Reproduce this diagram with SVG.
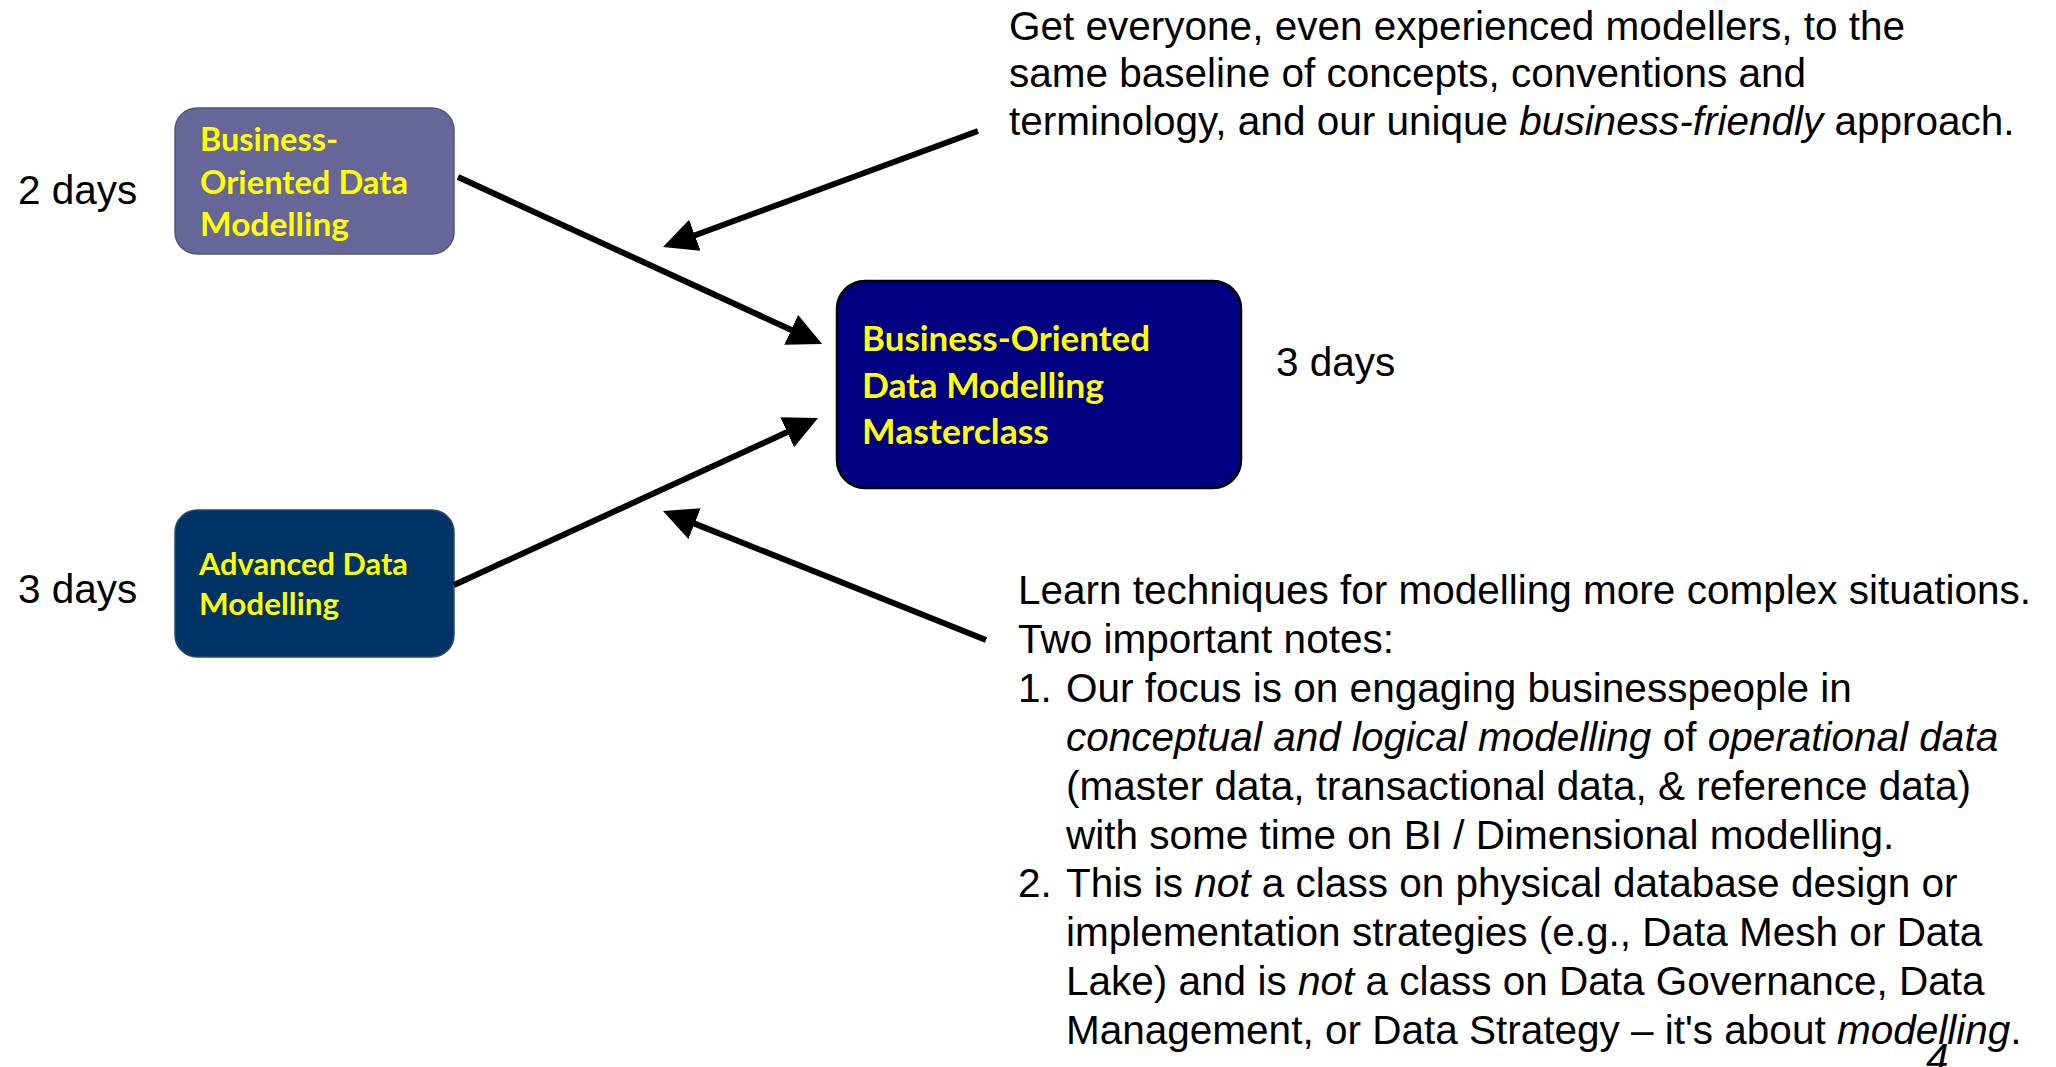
<svg xmlns="http://www.w3.org/2000/svg" width="2056" height="1067" viewBox="0 0 2056 1067">
<style>
.body{font-family:"Liberation Sans",Arial,sans-serif;font-size:40.5px;fill:#000}
.it{font-style:italic}
.bx{font-family:Lato,"Open Sans",sans-serif;font-weight:bold;fill:#FFFF00}
.conn line{stroke:#000;stroke-width:6;fill:none}
</style>
<defs>
<marker id="ah" markerUnits="userSpaceOnUse" markerWidth="36" markerHeight="34" refX="2" refY="16.5" orient="auto">
<path d="M0,0 L34,16.5 L0,33 z" fill="#000"/>
</marker>
</defs>
<rect width="2056" height="1067" fill="#fff"/>

<g id="node-bodm">
<rect x="175" y="108" width="279" height="146" rx="22" fill="#666699" stroke="#55557f" stroke-width="1.5"/>
<text class="bx" font-size="32.5"><tspan x="200" y="151" textLength="138" lengthAdjust="spacingAndGlyphs">Business-</tspan><tspan x="200" y="194" textLength="208" lengthAdjust="spacingAndGlyphs">Oriented Data</tspan><tspan x="200" y="236" textLength="149" lengthAdjust="spacingAndGlyphs">Modelling</tspan></text>
</g>

<g id="node-adm">
<rect x="175" y="510" width="279" height="147" rx="22" fill="#003366" stroke="#2a4a73" stroke-width="1.5"/>
<text class="bx" font-size="30.5"><tspan x="199" y="575" textLength="209" lengthAdjust="spacingAndGlyphs">Advanced Data</tspan><tspan x="199" y="615" textLength="140" lengthAdjust="spacingAndGlyphs">Modelling</tspan></text>
</g>

<g id="node-master">
<rect x="837" y="281" width="404" height="207" rx="28" fill="#000080" stroke="#000" stroke-width="2.5"/>
<text class="bx" font-size="34"><tspan x="862" y="351" textLength="288" lengthAdjust="spacingAndGlyphs">Business-Oriented</tspan><tspan x="862" y="398" textLength="242" lengthAdjust="spacingAndGlyphs">Data Modelling</tspan><tspan x="862" y="444" textLength="187" lengthAdjust="spacingAndGlyphs">Masterclass</tspan></text>
</g>

<g id="labels">
<text class="body" x="18" y="204">2 days</text>
<text class="body" x="18" y="603">3 days</text>
<text class="body" x="1276" y="376">3 days</text>
</g>

<g id="note-top">
<text class="body"><tspan x="1009" y="39.5">Get everyone, even experienced modellers, to the</tspan><tspan x="1009" y="87">same baseline of concepts, conventions and</tspan><tspan x="1009" y="134.5">terminology, and our unique <tspan class="it">business-friendly</tspan> approach.</tspan></text>
</g>

<g id="note-bottom">
<text class="body">
<tspan x="1018" y="604">Learn techniques for modelling more complex situations.</tspan>
<tspan x="1018" y="652.9">Two important notes:</tspan>
<tspan x="1018" y="701.8">1.</tspan><tspan x="1066" y="701.8">Our focus is on engaging businesspeople in</tspan>
<tspan x="1066" y="750.7"><tspan class="it">conceptual and logical modelling</tspan> of <tspan class="it">operational data</tspan></tspan>
<tspan x="1066" y="799.6">(master data, transactional data, &amp; reference data)</tspan>
<tspan x="1066" y="848.5">with some time on BI / Dimensional modelling.</tspan>
<tspan x="1018" y="897.4">2.</tspan><tspan x="1066" y="897.4">This is <tspan class="it">not</tspan> a class on physical database design or</tspan>
<tspan x="1066" y="946.3">implementation strategies (e.g., Data Mesh or Data</tspan>
<tspan x="1066" y="995.2">Lake) and is <tspan class="it">not</tspan> a class on Data Governance, Data</tspan>
<tspan x="1066" y="1044.1">Management, or Data Strategy – it's about <tspan class="it">modelling</tspan>.</tspan>
</text>
</g>

<g id="page-number">
<text class="body it" x="1926" y="1072" font-size="32">4</text>
</g>

<g id="connectors" class="conn">
<line x1="458" y1="177" x2="793" y2="330.7" marker-end="url(#ah)"/>
<line x1="978" y1="131" x2="693" y2="236" marker-end="url(#ah)"/>
<line x1="454" y1="585" x2="789" y2="431.3" marker-end="url(#ah)"/>
<line x1="986" y1="640" x2="692.7" y2="522.9" marker-end="url(#ah)"/>
</g>
</svg>
